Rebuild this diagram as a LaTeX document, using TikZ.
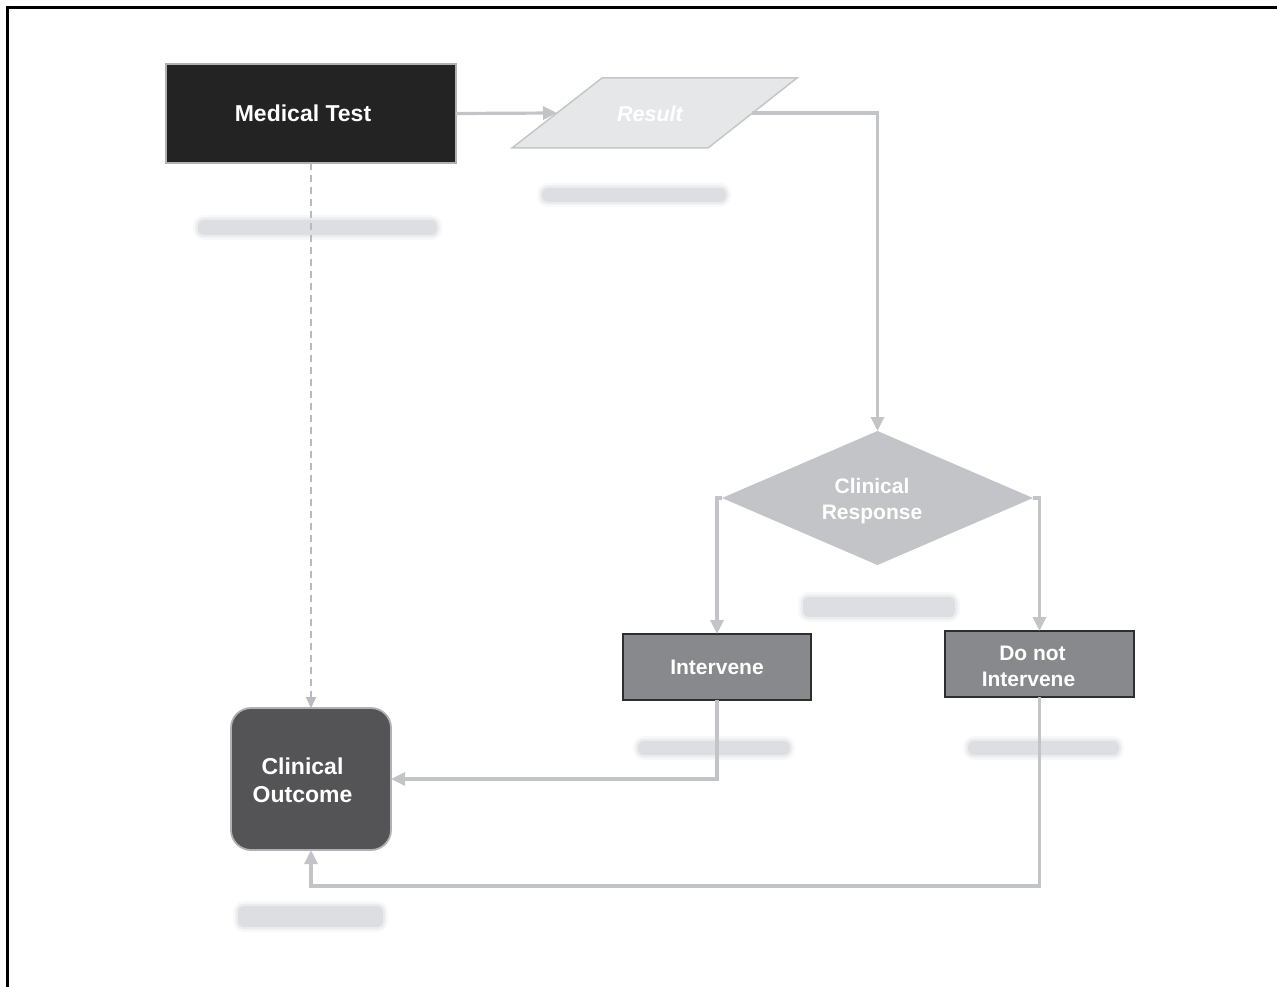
\documentclass[tikz,border=0pt]{standalone}
\usepackage{fontspec}
\setmainfont{Liberation Sans}
\usetikzlibrary{shapes.geometric,arrows.meta,calc}
\definecolor{conncol}{HTML}{C3C4C8}
\definecolor{dashcol}{HTML}{B9BABD}
\definecolor{mtfill}{HTML}{232323}
\definecolor{resfill}{HTML}{E6E7E9}
\definecolor{resline}{HTML}{C5C6CA}
\definecolor{decfill}{HTML}{C3C4C8}
\definecolor{actfill}{HTML}{88898D}
\definecolor{actline}{HTML}{2E2E2E}
\definecolor{outfill}{HTML}{545457}
\definecolor{outline}{HTML}{B0B1B4}
\definecolor{barfill}{HTML}{DDDEE1}
\begin{document}
\begin{tikzpicture}[x=1pt,y=-1pt,
  every node/.style={font=\bfseries, text=white, align=center, outer sep=0pt},
  bigtext/.style={font=\fontsize{23}{28}\selectfont\bfseries},
  smalltext/.style={font=\fontsize{21}{26}\selectfont\bfseries},
  mtbox/.style={draw=outline, line width=1.5pt, fill=mtfill, minimum width=290, minimum height=99, bigtext},
  reslabel/.style={font=\fontsize{21.5}{26}\selectfont\bfseries\itshape, inner sep=0pt},
  resshape/.style={draw=resline, line width=1.5pt, fill=resfill},
  decbox/.style={diamond, aspect=2.3, fill=decfill, minimum width=311, minimum height=134, inner sep=0pt, smalltext},
  actbox/.style={draw=actline, line width=1.5pt, fill=actfill, minimum width=188, minimum height=66, smalltext},
  outbox/.style={draw=outline, line width=1.8pt, fill=outfill, rounded corners=20pt, minimum width=160, minimum height=142, bigtext},
  conn/.style={draw=conncol, line width=3.2pt, -{Triangle[length=14pt,width=13pt]}},
  dashconn/.style={draw=dashcol, line width=2pt, dash pattern=on 7pt off 5pt, -{Triangle[length=11pt,width=10pt]}},
  blurbar/.style={fill=barfill, rounded corners=6pt,
     preaction={draw=barfill, line width=10pt, draw opacity=0.2},
     preaction={draw=barfill, line width=5pt, draw opacity=0.45}}
]
\useasboundingbox (0,0) rectangle (1277,987);
% frame
\draw[line width=2.2pt, black] (7.5,987) -- (7.5,7.5) -- (1277,7.5);

% blurred placeholder bars
\path[blurbar] (198,220) rectangle (437,235);
\path[blurbar] (542,188) rectangle (726,202);
\path[blurbar] (803,597) rectangle (955,617);
\path[blurbar] (638,741) rectangle (790,755);
\path[blurbar] (968,741) rectangle (1119,755);
\path[blurbar] (238,906) rectangle (383,927);

% result parallelogram
\path[resshape] (602,78) -- (797,78) -- (708,148) -- (512,148) -- cycle;

% nodes
\node[mtbox] (mt) at (311,113.5) {Medical Test\hspace*{16pt}};
\node[reslabel] (res) at (654.5,114) {Result\hspace*{9pt}};
\coordinate (resL) at (557,113);
\coordinate (resR) at (752,113);
\node[decbox] (cr) at (877.5,498) {\rule{0pt}{22pt}Clinical\hspace*{11pt}\\Response\hspace*{11pt}};
\node[actbox] (iv) at (717,667) {Intervene};
\node[actbox, minimum width=189] (dn) at (1039.5,664) {\rule{0pt}{19pt}Do not\hspace*{14pt}\\Intervene\hspace*{22pt}};
\node[outbox] (co) at (311,779) {\rule{0pt}{20pt}Clinical\hspace*{17pt}\\Outcome\hspace*{17pt}};
\coordinate (bend) at (311,886);

% connectors
\draw[conn] (mt.east) -- (resL);
\draw[conn] (resR) -| (cr.north);
\draw[conn] (cr.west) -| (iv.north);
\draw[conn] (cr.east) -| (dn.north);
\draw[conn] (iv.south) |- (co.east);
\draw[conn] (dn.south) |- (bend) -- (co.south);
\draw[dashconn] (mt.south) -- (co.north);
\end{tikzpicture}
\end{document}
